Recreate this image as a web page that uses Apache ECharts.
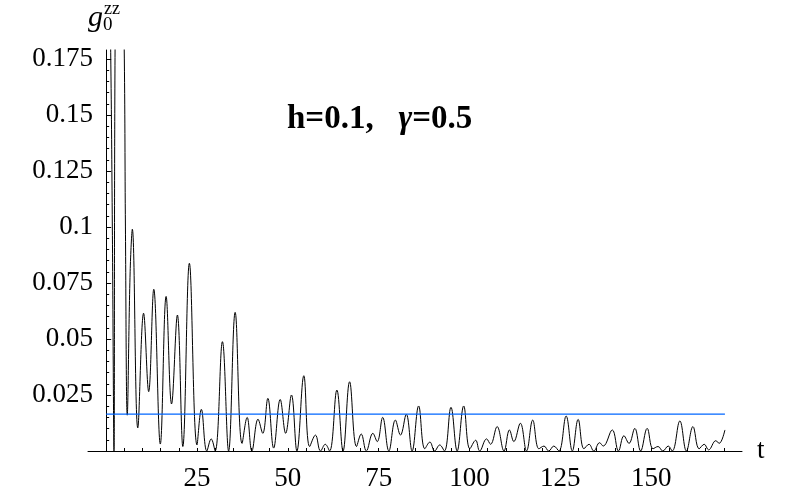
<!DOCTYPE html>
<html>
<head>
<meta charset="utf-8">
<script src="https://cdn.jsdelivr.net/npm/echarts@6/dist/echarts.min.js"></script>
<style>
html,body{margin:0;padding:0;background:#fff;}
#chart{width:800px;height:494px;}
</style>
</head>
<body>
<div id="chart"></div>
<script>
// time values t
const tValues = [0, 0.7, 1.25, 1.7, 2.15, 2.45, 3.0, 3.7, 4.4, 5.0, 5.3, 5.8, 6.6, 7.2, 8.7, 10.3, 11.7, 13.1, 14.9, 16.5,
  18.0, 19.6, 21.1, 22.9, 25.0, 26.2, 27.7, 28.9, 30.0, 32.0, 33.7, 35.5, 37.4, 38.8, 40.1, 41.8, 43.1, 44.5, 46.1, 47.9,
  49.4, 51.0, 52.5, 54.4, 56.0, 57.6, 59.0, 60.3, 61.5, 63.5, 65.2, 67.0, 68.9, 70.2, 71.6, 73.4, 74.6, 76.1, 77.8, 79.6,
  81.0, 82.6, 84.2, 86.0, 87.7, 89.1, 90.4, 91.8, 93.1, 94.9, 96.6, 98.4, 100.1, 101.7, 102.8, 104.7, 105.8, 107.6, 109.5, 111.0,
  112.2, 114.0, 115.7, 117.4, 119.1, 120.5, 121.8, 123.2, 124.6, 126.6, 128.3, 129.9, 131.5, 132.9, 134.2, 135.8, 136.8, 139.3, 141.0, 142.5,
  143.9, 145.5, 147.1, 148.9, 150.5, 151.9, 153.2, 154.7, 155.8, 157.9, 159.7, 161.5, 163.2, 164.6, 165.8, 167.8, 168.7, 170.3];
// correlation g0^zz(t)
const gValues = [0.26, 0.235, 0.178, 0.1, 0.0, 0.179, 0.23, 0.25, 0.23, 0.175, 0.1, 0.016, 0.08, 0.099, 0.0103, 0.0615, 0.0265, 0.0722, 0.0031, 0.069,
  0.021, 0.0607, 0.002, 0.0838, 0.0027, 0.0186, 0.0, 0.0054, 0.0, 0.0488, 0.0, 0.0619, 0.0034, 0.015, 0.0, 0.0142, 0.0079, 0.0235, 0.0013, 0.023,
  0.0079, 0.025, 0.0, 0.0336, 0.002, 0.0071, 0.0, 0.003, 0.0, 0.0272, 0.0, 0.0309, 0.002, 0.0076, 0.0, 0.0079, 0.0042, 0.015, 0.0, 0.0138,
  0.0071, 0.0164, 0.0, 0.0201, 0.001, 0.004, 0.0, 0.0027, 0.0, 0.0195, 0.0, 0.0201, 0.001, 0.0048, 0.0, 0.0054, 0.003, 0.0109, 0.0, 0.0094,
  0.0042, 0.0124, 0.0, 0.0138, 0.001, 0.0022, 0.0, 0.0022, 0.0, 0.0156, 0.0, 0.0141, 0.001, 0.003, 0.0, 0.0037, 0.0022, 0.0094, 0.0, 0.0068,
  0.0034, 0.0101, 0.0, 0.0101, 0.001, 0.002, 0.0, 0.0022, 0.0, 0.0134, 0.0, 0.0109, 0.001, 0.003, 0.0005, 0.0046, 0.0034, 0.0094];
// asymptotic level (blue line)
const asymptoteT = [0, 170.3];
const asymptoteG = [0.0165, 0.0165];
// ticks
const xTickValues = [5,10,15,20,25,30,35,40,45,50,55,60,65,70,75,80,85,90,95,100,105,110,115,120,125,130,135,140,145,150,155,160,165,170];
const xLabelValues = [25, 50, 75, 100, 125, 150];
const yTickValues = [0.025, 0.05, 0.075, 0.1, 0.125, 0.15, 0.175];

const curveData = tValues.map((t, i) => [t, gValues[i]]);
const asymData = asymptoteT.map((t, i) => [t, asymptoteG[i]]);

const serif = "'Liberation Serif','DejaVu Serif',serif";
const chart = echarts.init(document.getElementById('chart'), null, {renderer: 'canvas'});
chart.setOption({
  animation: false,
  backgroundColor: '#ffffff',
  title: {
    text: '{a|h=0.1,   }{b|γ}{a|=0.5}',
    left: 282, top: 98,
    textStyle: {
      rich: {
        a: {fontFamily: serif, fontWeight: 'bold', fontSize: 33, color: '#000'},
        b: {fontFamily: serif, fontWeight: 'bold', fontStyle: 'italic', fontSize: 33, color: '#000'}
      }
    }
  },
  graphic: [
    {type: 'text', left: 88, top: 3, style: {text: 'g', font: "italic 30px 'Liberation Serif'", fill: '#000'}},
    {type: 'text', left: 104, top: 0, style: {text: 'zz', font: "18px 'Liberation Serif'", fill: '#000'}},
    {type: 'text', left: 103, top: 16, style: {text: '0', font: "19px 'Liberation Serif'", fill: '#000'}}
  ],
  grid: {left: 88, right: 58, top: 50, bottom: 43, containLabel: false},
  xAxis: {
    type: 'value', min: -5, max: 175, interval: 5,
    name: 't', nameLocation: 'end', nameGap: 15,
    nameTextStyle: {fontFamily: serif, fontSize: 27, color: '#000'},
    axisLine: {show: true, onZero: true, lineStyle: {color: '#000', width: 1}},
    axisTick: {show: true, inside: true, length: 3, customValues: xTickValues, lineStyle: {color: '#000'}},
    axisLabel: {show: true, customValues: xLabelValues, margin: 14, fontFamily: serif, fontSize: 27, color: '#000'},
    splitLine: {show: false}
  },
  yAxis: {
    type: 'value', min: 0, max: 0.179, interval: 0.025,
    axisLine: {show: true, onZero: true, lineStyle: {color: '#000', width: 1}},
    axisTick: {show: true, inside: true, length: 5, customValues: yTickValues, lineStyle: {color: '#000'}},
    minorTick: {show: true, splitNumber: 5, length: 3, lineStyle: {color: '#000'}},
    axisLabel: {show: true, customValues: yTickValues, margin: -5, fontFamily: serif, fontSize: 27, color: '#000'},
    splitLine: {show: false}, minorSplitLine: {show: false}
  },
  series: [
    {
      type: 'line', data: curveData, showSymbol: false, smooth: 0.4, clip: true,
      lineStyle: {color: '#000', width: 1}, silent: true
    },
    {
      type: 'line', data: asymData, showSymbol: false, clip: true,
      lineStyle: {color: '#0066ff', width: 1.3}, silent: true
    }
  ]
});
</script>
</body>
</html>
